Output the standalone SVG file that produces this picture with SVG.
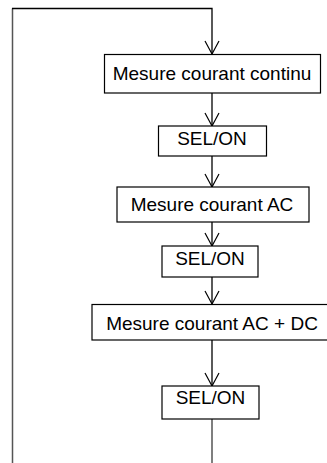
<svg xmlns="http://www.w3.org/2000/svg" width="327" height="463" viewBox="0 0 327 463">
<style>
.box{fill:#fff;stroke:#000;stroke-width:1.2}
.t{font-family:"Liberation Sans",Arial,sans-serif;font-size:19px;fill:#000;text-anchor:middle}
.c{fill:none;stroke:#000;stroke-width:1.3}
.g{fill:none;stroke:#555;stroke-width:1.5}
.ah{fill:none;stroke:#000;stroke-width:1.2}
</style>
<rect width="327" height="463" fill="#fff"/>
<g id="connectors">
<path class="g" d="M12.5 463 V8.5"/>
<path class="c" d="M12 8.5 H212 V54"/>
<path class="ah" d="M205 41 L212 54 L219 41"/>
<path class="c" d="M212 93 V126"/>
<path class="ah" d="M205 113 L212 126 L219 113"/>
<path class="c" d="M212 156 V187"/>
<path class="ah" d="M205 174 L212 187 L219 174"/>
<path class="c" d="M212 222 V246"/>
<path class="ah" d="M205 233 L212 246 L219 233"/>
<path class="c" d="M212 277 V304"/>
<path class="ah" d="M205 291 L212 304 L219 291"/>
<path class="c" d="M212 340 V386"/>
<path class="ah" d="M205 373 L212 386 L219 373"/>
<path class="g" d="M212 419 V463"/>
</g>
<g id="n1"><rect class="box" x="104.5" y="54.5" width="216" height="38.5"/><text class="t" x="212" y="79.5">Mesure courant continu</text></g>
<g id="n2"><rect class="box" x="158.5" y="126" width="108" height="30"/><text class="t" x="212" y="145">SEL/ON</text></g>
<g id="n3"><rect class="box" x="117" y="187" width="192" height="35"/><text class="t" x="212" y="210.5">Mesure courant AC</text></g>
<g id="n4"><rect class="box" x="162" y="246" width="96" height="31"/><text class="t" x="210" y="265">SEL/ON</text></g>
<g id="n5"><rect class="box" x="92" y="304.5" width="240" height="35.5"/><text class="t" x="212" y="330">Mesure courant AC + DC</text></g>
<g id="n6"><rect class="box" x="162" y="386" width="97" height="33"/><text class="t" x="210.5" y="404">SEL/ON</text></g>
</svg>
